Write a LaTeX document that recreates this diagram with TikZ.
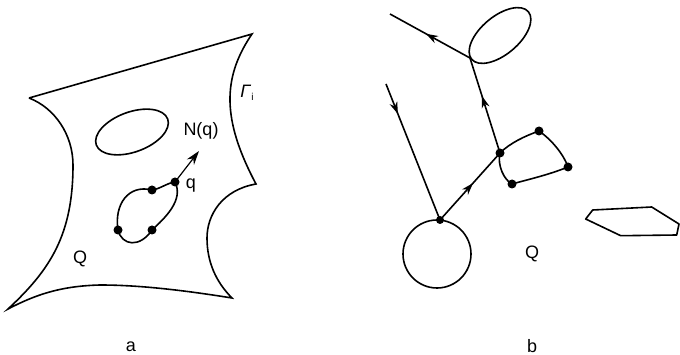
\documentclass[tikz,border=0pt]{standalone}
\usepackage{fontspec}
\setmainfont{Liberation Sans}
\usetikzlibrary{arrows.meta,shapes.geometric,decorations.markings}

\begin{document}
\begin{tikzpicture}[
    x=1pt,y=-1pt,
    >=Stealth,
    font=\fontsize{18}{20}\selectfont,
    inner sep=0pt,
    curveline/.style={line width=1.6pt,black},
    hole/.style={ellipse,draw,line width=1.6pt},
    dotnode/.style={circle,fill=black,minimum size=9pt},
    ray/.style={line width=1.6pt,postaction={decorate},decoration={markings,
        mark=at position #1 with {\arrow{Stealth[length=12pt,width=8pt]}}}},
]
\useasboundingbox (0,0) rectangle (680,355);

% ============================================================
% PANEL A: region with outer boundary
% ============================================================
\coordinate (ctop) at (29,98);
\coordinate (cright) at (252,34);
\coordinate (cnotch) at (256,184);
\coordinate (clow) at (232,298);
\coordinate (cleft) at (8,309);

\draw[curveline,line join=miter] (ctop) -- (cright)
    .. controls (222,78) and (222,120) .. (cnotch)
    .. controls (222,190) and (207,215) .. (207,238)
    .. controls (207,262) and (216,282) .. (clow)
    .. controls (170,288) and (130,285) .. (100,285)
    .. controls (60,286) and (35,295) .. (cleft)
    .. controls (50,270) and (73,235) .. (73,165)
    .. controls (73,135) and (55,108) .. (ctop);

\node[hole,rotate=20,minimum width=76pt,minimum height=40pt] (hole) at (132,132) {};

% Closed curve with points
\node[dotnode] (qa) at (175,182) {};
\node[dotnode] (pa) at (152,190) {};
\node[dotnode] (ra) at (118,230) {};
\node[dotnode] (sa) at (152,230) {};
\coordinate (tipa) at (199,151);

\draw[curveline] (qa.center) .. controls (167,183) and (160,189) .. (pa.center)
    .. controls (128,184) and (114,205) .. (ra.center)
    .. controls (122,246) and (140,248) .. (sa.center)
    .. controls (165,218) and (184,200) .. (qa.center);
\draw[->,line width=1.2pt,>={Stealth[length=14pt,width=9pt]}] (qa.center) -- (tipa);

\node (nq) at (201,131) {N(q)};
\node (ql) at (191,186) {q};
\node (gam) at (247,93) {\textit{Γ}\raisebox{-3pt}{\fontsize{10}{10}\selectfont i}};
\node (qreg) at (80,259) {Q};
\node (capa) at (131,347) {a};

% ============================================================
% PANEL B: trajectories
% ============================================================
\node[hole,rotate=40,minimum width=74pt,minimum height=38pt] (holeb) at (500,35.5) {};
\node[circle,draw,line width=1.6pt,minimum size=68pt] (disc) at (437,254) {};

\node[dotnode] (pb) at (500,153) {};
\node[dotnode] (ub) at (539,131) {};
\node[dotnode] (vb) at (568,167) {};
\node[dotnode] (wb) at (512,184) {};
\node[dotnode,minimum size=8pt] (db) at (440,220) {};
\coordinate (hitb) at (470,58);
\coordinate (startb) at (386,84);
\coordinate (endb) at (390,14);

\draw[ray=0.22] (startb) -- (db.center);
\draw[ray=0.55] (db.center) -- (pb.center);
\draw[ray=0.6] (pb.center) -- (hitb);
\draw[ray=0.55] (hitb) -- (endb);

\draw[curveline] (pb.center) .. controls (510,143) and (525,136) .. (ub.center)
    .. controls (552,140) and (564,155) .. (vb.center)
    .. controls (548,175) and (530,179) .. (wb.center)
    .. controls (504,180) and (497,165) .. (pb.center);

% Polygon obstacle
\draw[curveline,line join=round] (585.7,219) -- (592.7,210) -- (651.7,207) -- (679,224)
    -- (676.7,235) -- (620.7,235.7) -- cycle;

\node (qregb) at (532,254) {Q};
\node (capb) at (532,346) {b};

\end{tikzpicture}
\end{document}
